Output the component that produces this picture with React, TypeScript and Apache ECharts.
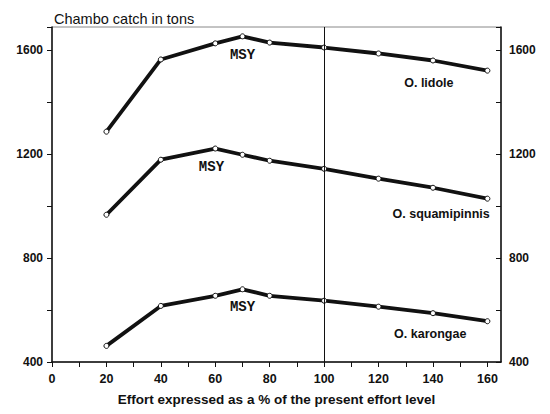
import React, { useEffect, useRef } from "react";
import * as echarts from "echarts";

const effort = [20, 40, 60, 70, 80, 100, 120, 140, 160];
const lidole = [1287, 1565, 1627, 1654, 1630, 1611, 1588, 1561, 1522];
const squamipinnis = [967, 1179, 1222, 1198, 1175, 1144, 1106, 1071, 1029];
const karongae = [462, 616, 655, 680, 655, 636, 613, 588, 557];

const seriesNames = ["O. lidole", "O. squamipinnis", "O. karongae"];
const msyPos = [
  [70, 1584],
  [58.6, 1152],
  [70, 612],
];
const namePos = [
  [138.5, 1476],
  [143, 971],
  [139, 508],
];

const titleText = "Chambo catch in tons";
const xName = "Effort expressed as a % of the present effort level";
const presentLevel = 100;

const FONT = "Liberation Sans";

export default function App() {
  const ref = useRef<HTMLDivElement>(null);
  useEffect(() => {
    if (!ref.current) return;
    const chart = echarts.init(ref.current, undefined, { renderer: "svg" });
    const allData = [lidole, squamipinnis, karongae];
    const yLabelFmt = (v: number) => (v % 400 === 0 ? String(v) : "");
    const yAxisBase = {
      type: "value",
      min: 400,
      max: 1690,
      interval: 200,
      splitLine: { show: false },
      axisLine: { show: true, lineStyle: { color: "#111", width: 1.5 } },
      axisLabel: {
        formatter: yLabelFmt,
        color: "#111",
        fontFamily: FONT,
        fontSize: 12,
        fontWeight: "bold",
      },
    };
    chart.setOption({
      animation: false,
      backgroundColor: "#fff",
      title: {
        text: titleText,
        left: 49,
        top: 6,
        textStyle: { fontFamily: FONT, fontSize: 14.5, fontWeight: "normal", color: "#111" },
      },
      grid: {
        left: 52,
        right: 49,
        top: 27,
        bottom: 52,
        show: true,
        borderColor: "#888",
        borderWidth: 1,
      },
      xAxis: {
        type: "value",
        min: 0,
        max: 165,
        interval: 10,
        name: xName,
        nameLocation: "middle",
        nameGap: 30,
        nameTextStyle: { fontFamily: FONT, fontSize: 13.5, fontWeight: "bold", color: "#111" },
        splitLine: { show: false },
        axisLine: { show: true, lineStyle: { color: "#111", width: 1.5 } },
        axisTick: { show: true, length: 5, inside: false, lineStyle: { color: "#111" } },
        axisLabel: {
          formatter: (v: number) => (v % 20 === 0 && v <= 160 ? String(v) : ""),
          color: "#111",
          fontFamily: FONT,
          fontSize: 12.5,
          fontWeight: "bold",
          margin: 10,
          showMaxLabel: false,
        },
      },
      yAxis: [
        {
          ...yAxisBase,
          position: "left",
          axisTick: { show: true, length: 5, inside: false, lineStyle: { color: "#111" } },
          axisLabel: { ...yAxisBase.axisLabel, margin: 9 },
        },
        {
          ...yAxisBase,
          position: "right",
          axisTick: { show: true, length: 5, inside: true, lineStyle: { color: "#111" } },
          axisLabel: { ...yAxisBase.axisLabel, margin: 8, padding: [6, 0, 0, 0] },
        },
      ],
      series: allData.map((d, i) => ({
        type: "line",
        name: seriesNames[i],
        data: effort.map((x, j) => [x, d[j]]),
        symbol: "circle",
        symbolSize: 5,
        showAllSymbol: true,
        lineStyle: { color: "#111", width: 3.8 },
        itemStyle: { color: "#fff", borderColor: "#111", borderWidth: 1 },
        z: 3,
        markPoint: {
          symbol: "circle",
          symbolSize: 0,
          silent: true,
          data: [
            {
              coord: msyPos[i],
              label: {
                show: true,
                formatter: "MSY",
                position: "inside",
                fontFamily: "Liberation Mono",
                fontWeight: "bold",
                fontSize: 14,
                color: "#111",
              },
            },
            {
              coord: namePos[i],
              label: {
                show: true,
                formatter: seriesNames[i],
                position: "inside",
                fontFamily: FONT,
                fontWeight: "bold",
                fontSize: 12.5,
                color: "#111",
              },
            },
          ],
        },
        markLine:
          i === 0
            ? {
                silent: true,
                symbol: "none",
                label: { show: false },
                lineStyle: { color: "#111", width: 1, type: "solid" },
                data: [{ xAxis: presentLevel }],
              }
            : undefined,
      })),
    });
    return () => chart.dispose();
  }, []);
  return (
    <div
      ref={ref}
      style={{ position: "fixed", left: 0, top: 0, width: 550, height: 414 }}
    />
  );
}
